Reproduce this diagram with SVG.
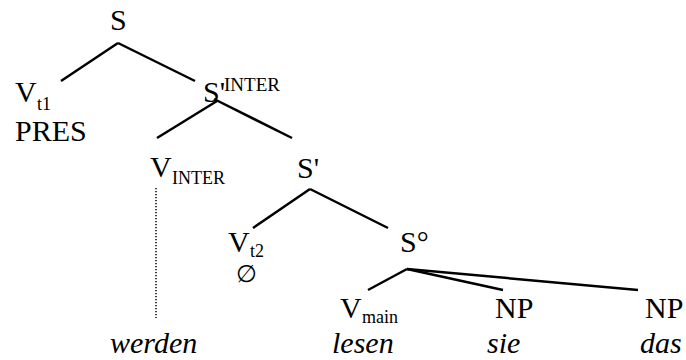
<svg xmlns="http://www.w3.org/2000/svg" width="686" height="360" viewBox="0 0 686 360">
<style>
.l{font-family:"Liberation Serif","Times New Roman",serif;font-size:30px;fill:#000}
.s{font-family:"Liberation Serif","Times New Roman",serif;font-size:18px;fill:#000}
.w{font-family:"Liberation Serif","Times New Roman",serif;font-size:30px;font-style:italic;fill:#000}
.e{stroke:#000;stroke-width:2.5;fill:none;stroke-linecap:butt}
.d{stroke:#000;stroke-width:1.5;fill:none;stroke-dasharray:1.2 1.8}
</style>
<rect width="686" height="360" fill="#fff"/>
<g id="connectors">
<line class="e" x1="118" y1="43" x2="61" y2="81"/>
<line class="e" x1="118" y1="43" x2="195" y2="81"/>
<line class="e" x1="217" y1="101" x2="157" y2="138"/>
<line class="e" x1="214" y1="99" x2="292" y2="138"/>
<line class="e" x1="310" y1="189" x2="253" y2="228"/>
<line class="e" x1="310" y1="189" x2="388" y2="228"/>
<line class="e" x1="407" y1="269" x2="368" y2="290"/>
<line class="e" x1="407" y1="269" x2="503" y2="290"/>
<line class="e" x1="407" y1="269" x2="638" y2="290"/>
<line class="d" x1="156" y1="188" x2="156" y2="318"/>
</g>
<g id="n-S"><text class="l" x="110" y="30">S</text></g>
<g id="n-Vt1"><text class="l" x="15" y="102">V</text><text class="s" x="37" y="110">t1</text><text class="l" x="15" y="141">PRES</text></g>
<g id="n-SINTER"><text class="l" x="203" y="102">S'</text><text class="s" x="224" y="91" style="font-size:19px">INTER</text></g>
<g id="n-VINTER"><text class="l" x="150" y="177">V</text><text class="s" x="172" y="184">INTER</text></g>
<g id="n-Sbar"><text class="l" x="297" y="178">S'</text></g>
<g id="n-Vt2"><text class="l" x="228" y="252">V</text><text class="s" x="250" y="257">t2</text><text class="l" x="236" y="282" style="font-size:24px">∅</text></g>
<g id="n-S0"><text class="l" x="400" y="252">S°</text></g>
<g id="n-Vmain"><text class="l" x="340" y="318">V</text><text class="s" x="362" y="323">main</text></g>
<g id="n-NP1"><text class="l" x="495" y="318">NP</text></g>
<g id="n-NP2"><text class="l" x="645" y="318">NP</text></g>
<g id="n-words"><text class="w" x="110" y="353">werden</text><text class="w" x="332" y="353">lesen</text><text class="w" x="487" y="353">sie</text><text class="w" x="640" y="353">das</text></g>
</svg>
